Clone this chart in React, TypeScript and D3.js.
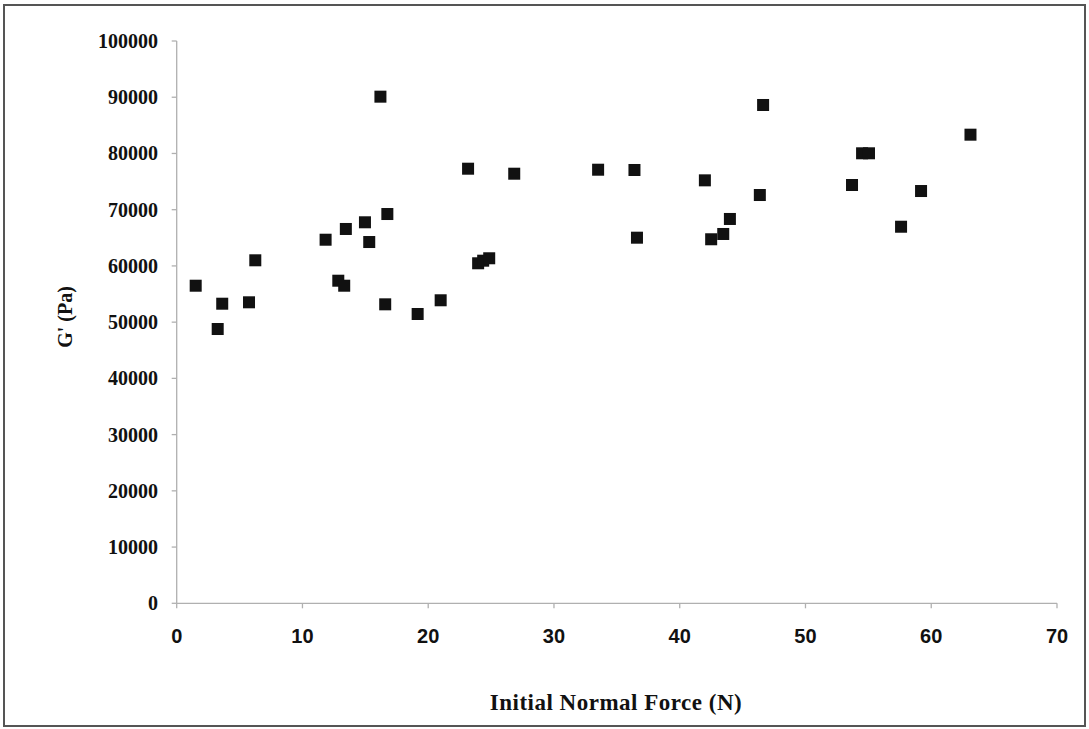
import React from "react";
import * as d3 from "d3";

// Initial normal force (N) and storage modulus G' (Pa) for each sample
const forceN: number[] = [
  1.51, 3.26, 3.62, 5.75, 6.25, 11.84, 12.85, 13.32, 13.45, 14.97, 15.31, 16.2, 16.58, 16.75,
  19.16, 20.99, 23.17, 23.97, 24.37, 24.85, 26.84, 33.51, 36.4, 36.6, 42.0, 42.5, 43.46, 43.99,
  46.37, 46.63, 53.7, 54.5, 55.05, 57.6, 59.19, 63.12,
];
const storageModulus: number[] = [
  56480, 48780, 53280, 53530, 61000, 64660, 57370, 56480, 66570, 67760, 64250, 90100, 53170, 69230,
  51450, 53890, 77290, 60470, 60930, 61360, 76400, 77110, 77060, 65020, 75220, 64740, 65680, 68350,
  72610, 88620, 74390, 80030, 80030, 66970, 73320, 83340,
];
const xTicks: number[] = [0, 10, 20, 30, 40, 50, 60, 70];
const yTicks: number[] = [0, 10000, 20000, 30000, 40000, 50000, 60000, 70000, 80000, 90000, 100000];

const W = 1089;
const H = 729;
const plot = { left: 176.7, right: 1057, top: 41, bottom: 603.3 };

export default function App() {
  const x = d3.scaleLinear().domain([0, 70]).range([plot.left, plot.right]);
  const y = d3.scaleLinear().domain([0, 100000]).range([plot.bottom, plot.top]);
  const points = forceN.map((f, i) => ({ f, g: storageModulus[i] }));
  const axisColor = "#b0b0b0";
  const marker = 12;
  const serif = "'Liberation Serif', 'Times New Roman', serif";

  return (
    <svg
      width={W}
      height={H}
      style={{ position: "absolute", left: 0, top: 0, background: "#fff" }}
    >
      <rect x={4} y={5} width={1081} height={721} fill="#fff" stroke="#555" strokeWidth={2} />

      {/* axes */}
      <line x1={plot.left} x2={plot.left} y1={plot.top} y2={plot.bottom} stroke={axisColor} strokeWidth={1.3} />
      <line x1={plot.left} x2={plot.right} y1={plot.bottom} y2={plot.bottom} stroke={axisColor} strokeWidth={1.3} />

      {yTicks.map((t) => (
        <g key={"y" + t}>
          <line x1={plot.left - 5} x2={plot.left} y1={y(t)} y2={y(t)} stroke={axisColor} strokeWidth={1.3} />
          <text
            x={158}
            y={y(t)}
            dy="0.35em"
            textAnchor="end"
            fontFamily={serif}
            fontWeight="bold"
            fontSize={20}
            fill="#111"
          >
            {t}
          </text>
        </g>
      ))}

      {xTicks.map((t) => (
        <g key={"x" + t}>
          <line x1={x(t)} x2={x(t)} y1={plot.bottom} y2={plot.bottom + 5} stroke={axisColor} strokeWidth={1.3} />
          <text
            x={x(t)}
            y={643}
            textAnchor="middle"
            fontFamily="'Liberation Sans', Arial, sans-serif"
            fontWeight="bold"
            fontSize={20}
            fill="#111"
          >
            {t}
          </text>
        </g>
      ))}

      {/* data markers */}
      {points.map((p, i) => (
        <rect
          key={i}
          x={x(p.f) - marker / 2}
          y={y(p.g) - marker / 2}
          width={marker}
          height={marker}
          fill="#111"
        />
      ))}

      <text
        x={616}
        y={710}
        textAnchor="middle"
        fontFamily={serif}
        fontWeight="bold"
        fontSize={23}
        letterSpacing={0.5}
        fill="#111"
      >
        Initial Normal Force (N)
      </text>
      <text
        transform="translate(72, 317) rotate(-90)"
        textAnchor="middle"
        fontFamily={serif}
        fontWeight="bold"
        fontSize={20}
        fill="#111"
      >
        G' (Pa)
      </text>
    </svg>
  );
}
